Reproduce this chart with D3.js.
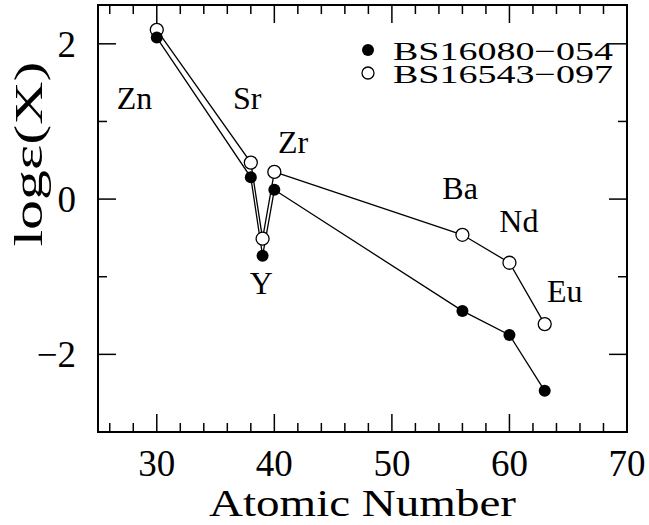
<!DOCTYPE html>
<html lang="en">
<head>
    <meta charset="UTF-8">
    <title>log eps vs Atomic Number</title>
    <script src="https://d3js.org/d3.v7.min.js"></script>
    <style>
        body { margin: 0; background: #fff; }
        text { font-family: "Liberation Serif", "DejaVu Serif", serif; fill: #000; }
    </style>
</head>
<body>
    <svg id="chart" width="649" height="525"></svg>

    <script>
        // Datos
        const elements = ["Zn", "Sr", "Y", "Zr", "Ba", "Nd", "Eu"];
        const atomicNumber = [30, 38, 39, 40, 56, 60, 63];
        const bs16080 = [2.08, 0.28, -0.73, 0.12, -1.44, -1.75, -2.47];
        const bs16543 = [2.18, 0.47, -0.51, 0.35, -0.46, -0.82, -1.61];
        const xTicks = [30, 40, 50, 60, 70];
        const yTicks = [-2, 0, 2];
        const seriesNames = ["BS16080\u2212054", "BS16543\u2212097"];

        // Posiciones de las etiquetas de elementos (en unidades de datos)
        const labelPos = [
            {x: 28.1, y: 1.16}, {x: 37.7, y: 1.16}, {x: 38.9, y: -1.22},
            {x: 41.6, y: 0.6}, {x: 55.8, y: 0.0}, {x: 60.8, y: -0.43}, {x: 64.7, y: -1.33}
        ];

        const margin = {top: 5, right: 22, bottom: 93, left: 98};
        const width = 649 - margin.left - margin.right;
        const height = 525 - margin.top - margin.bottom;

        const svg = d3.select("#chart")
            .append("g")
            .attr("transform", `translate(${margin.left},${margin.top})`);

        // Escalas
        const x = d3.scaleLinear().domain([25, 70]).range([0, width]);
        const y = d3.scaleLinear().domain([-3, 2.5]).range([height, 0]);

        // Marco
        svg.append("rect")
            .attr("width", width).attr("height", height)
            .attr("fill", "none").attr("stroke", "#000").attr("stroke-width", 2);

        // Marcas de ejes (en los cuatro lados)
        const xMinor = d3.range(26, 70, 2);
        const yMinor = d3.range(-3, 3, 1);
        const tick = (v, major, side) => {
            const len = major ? 18 : 9;
            if (side === "bottom") return [x(v), height, x(v), height - len];
            if (side === "top") return [x(v), 0, x(v), len];
            if (side === "left") return [0, y(v), len, y(v)];
            return [width, y(v), width - len, y(v)];
        };
        const tickData = [];
        xMinor.forEach(v => {
            const major = v % 10 === 0;
            tickData.push(tick(v, major, "bottom"), tick(v, major, "top"));
        });
        yMinor.forEach(v => {
            const major = v % 2 === 0;
            tickData.push(tick(v, major, "left"), tick(v, major, "right"));
        });
        svg.append("g").selectAll("line").data(tickData).join("line")
            .attr("x1", d => d[0]).attr("y1", d => d[1])
            .attr("x2", d => d[2]).attr("y2", d => d[3])
            .attr("stroke", "#000").attr("stroke-width", 1.5);

        // Etiquetas de ticks
        svg.append("g").selectAll("text").data(xTicks).join("text")
            .attr("x", d => x(d)).attr("y", height + 44)
            .attr("text-anchor", "middle").attr("font-size", 37)
            .text(d => d);
        svg.append("g").selectAll("text").data(yTicks).join("text")
            .attr("x", -22).attr("y", d => y(d) + 13)
            .attr("text-anchor", "end").attr("font-size", 37)
            .text(d => d < 0 ? "\u2212" + Math.abs(d) : d);

        // Titulos de ejes
        svg.append("text")
            .attr("x", width / 2).attr("y", height + 84)
            .attr("text-anchor", "middle").attr("font-size", 37)
            .attr("textLength", 307).attr("lengthAdjust", "spacingAndGlyphs")
            .text("Atomic Number");
        svg.append("text")
            .attr("transform", `translate(-56,${y(0.58)}) rotate(-90)`)
            .attr("text-anchor", "middle").attr("font-size", 40)
            .attr("textLength", 185).attr("lengthAdjust", "spacingAndGlyphs")
            .text("log\u03b5(X)");

        // Lineas
        const line = d3.line().x((d, i) => x(atomicNumber[i])).y(d => y(d));
        svg.append("path").datum(bs16080)
            .attr("fill", "none").attr("stroke", "#000").attr("stroke-width", 1.3)
            .attr("d", line);
        svg.append("path").datum(bs16543)
            .attr("fill", "none").attr("stroke", "#000").attr("stroke-width", 1.3)
            .attr("d", line);

        // Puntos
        svg.append("g").selectAll("circle").data(bs16543).join("circle")
            .attr("cx", (d, i) => x(atomicNumber[i])).attr("cy", d => y(d))
            .attr("r", 6.5).attr("fill", "#fff").attr("stroke", "#000").attr("stroke-width", 1.3);
        svg.append("g").selectAll("circle").data(bs16080).join("circle")
            .attr("cx", (d, i) => x(atomicNumber[i])).attr("cy", d => y(d))
            .attr("r", 6).attr("fill", "#000");

        // Etiquetas de elementos
        svg.append("g").selectAll("text").data(elements).join("text")
            .attr("x", (d, i) => x(labelPos[i].x)).attr("y", (d, i) => y(labelPos[i].y))
            .attr("text-anchor", "middle").attr("font-size", 32)
            .text(d => d);

        // Leyenda
        const legend = svg.append("g").attr("transform", "translate(270,45)");
        legend.append("circle").attr("cx", 0).attr("cy", 0).attr("r", 6).attr("fill", "#000");
        legend.append("circle").attr("cx", 0).attr("cy", 23).attr("r", 6)
            .attr("fill", "#fff").attr("stroke", "#000").attr("stroke-width", 1.3);
        legend.selectAll("text").data(seriesNames).join("text")
            .attr("x", 25).attr("y", (d, i) => 10 + i * 23)
            .attr("font-size", 26)
            .attr("textLength", 220).attr("lengthAdjust", "spacingAndGlyphs")
            .text(d => d);
    </script>
</body>
</html>
